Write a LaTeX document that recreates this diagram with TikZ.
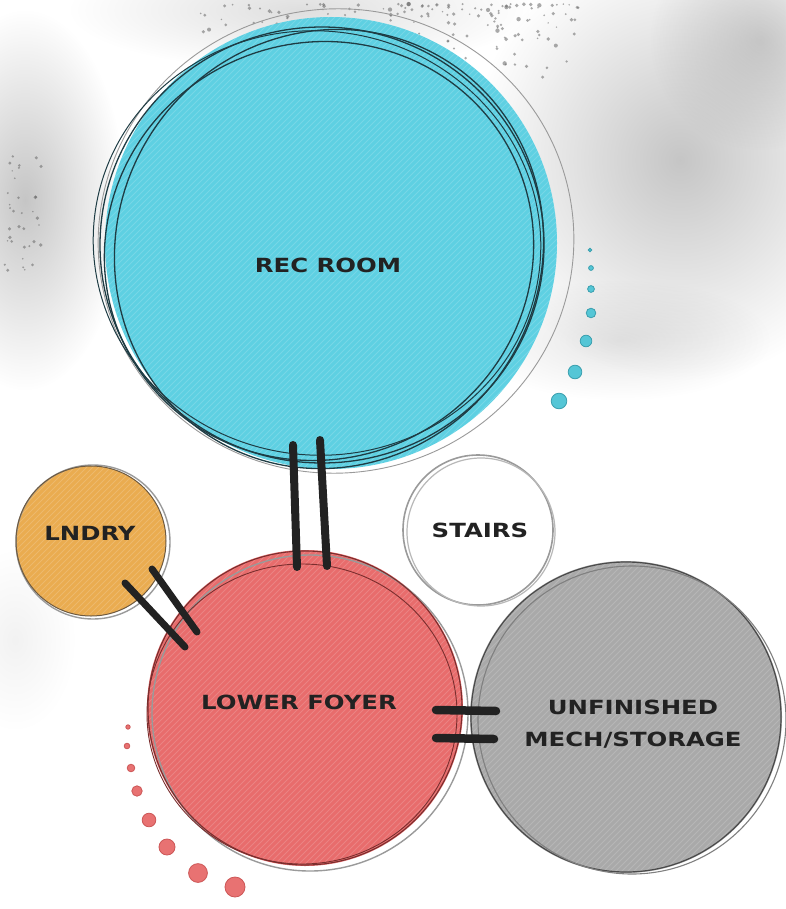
\documentclass[tikz,border=0pt]{standalone}
\usepackage{fontspec}
\usetikzlibrary{fadings,calc}
\newfontfamily\hand[FakeStretch=1.25]{DejaVu Sans}
\definecolor{ink}{HTML}{222222}
\definecolor{cyanfill}{HTML}{5ED0E2}
\definecolor{cyanline}{HTML}{1E3C44}
\definecolor{redfill}{HTML}{E86C6C}
\definecolor{redline}{HTML}{7A2E2E}
\definecolor{orangefill}{HTML}{EAAC50}
\definecolor{orangeline}{HTML}{6E5A40}
\definecolor{grayfill}{HTML}{A9A9A9}
\definecolor{grayline}{HTML}{4A4A4A}
\definecolor{softline}{HTML}{9A9A9A}
\definecolor{dotcyan}{HTML}{55C6D6}
\definecolor{dotcyanring}{HTML}{3A9FAE}
\definecolor{dotred}{HTML}{E87272}
\definecolor{dotredring}{HTML}{CC5656}
\tikzfading[name=haze, inner color=transparent!0, outer color=transparent!100]
\tikzset{
  lbl/.style={font=\hand\bfseries\fontsize{19.5}{32}\selectfont, text=ink, align=center, inner sep=0pt},
  room/.style={circle, inner sep=0pt},
  bar/.style={draw=ink, line width=8pt, line cap=round},
  hatchline/.style={draw=white, opacity=0.16, line width=0.8pt},
  hazeblob/.style={fill=gray, path fading=haze},
  speck/.style={fill=gray!80!black, opacity=0.55},
  recline/.style={draw=cyanline, line width=1.3pt},
}
\newcommand\hatchroom[2]{%
  \begin{scope}
    \clip (#1.center) circle[radius=#2];
    \foreach \i in {-60,...,60} {\draw[hatchline] ([shift={(\i*6-2*#2, 2*#2)}]#1.center) -- ++(4*#2,-4*#2);}
  \end{scope}}
\begin{document}
\begin{tikzpicture}[x=1pt,y=-1pt]
\useasboundingbox (0,0) rectangle (785,909);
\fill[white] (0,0) rectangle (785,909);
% background haze
\fill[hazeblob, opacity=0.45] (680,160) ellipse [x radius=210, y radius=220];
\fill[hazeblob, opacity=0.35] (760,40) ellipse [x radius=110, y radius=110];
\fill[hazeblob, opacity=0.45] (25,200) ellipse [x radius=100, y radius=190];
\fill[hazeblob, opacity=0.25] (300,10) ellipse [x radius=230, y radius=60];
\fill[hazeblob, opacity=0.2] (620,340) ellipse [x radius=150, y radius=60];
\fill[hazeblob, opacity=0.1] (15,640) ellipse [x radius=60, y radius=90];
% speckles
\pgfmathsetseed{11}
\foreach \i in {1,...,110} {
  \pgfmathsetmacro{\sx}{390+190*rnd}
  \pgfmathsetmacro{\sy}{4+95*rnd*rnd}
  \pgfmathsetmacro{\sr}{0.8+1.4*rnd}
  \fill[speck] (\sx,\sy) circle[radius=\sr];
}
\foreach \i in {1,...,40} {
  \pgfmathsetmacro{\sx}{200+200*rnd}
  \pgfmathsetmacro{\sy}{4+30*rnd}
  \pgfmathsetmacro{\sr}{0.8+1.2*rnd}
  \fill[speck] (\sx,\sy) circle[radius=\sr];
}
\foreach \i in {1,...,35} {
  \pgfmathsetmacro{\sx}{2+40*rnd}
  \pgfmathsetmacro{\sy}{130+150*rnd}
  \pgfmathsetmacro{\sr}{0.8+1.2*rnd}
  \fill[speck] (\sx,\sy) circle[radius=\sr];
}
% cyan dots
\foreach \x/\y/\r in {590/250/1.8, 591/268/2.4, 591/289/3.4, 591/313/4.8, 586/341/5.8, 575/372/6.8, 559/401/7.8}
  {\fill[dotcyan, draw=dotcyanring, line width=0.8pt] (\x,\y) circle[radius=\r];}
% red dots
\foreach \x/\y/\r in {128/727/2.2, 127/746/2.8, 131/768/3.8, 137/791/5.2, 149/820/6.8, 167/847/8, 198/873/9.4, 235/887/10}
  {\fill[dotred, draw=dotredring, line width=0.8pt] (\x,\y) circle[radius=\r];}

% rooms
\node[room, fill=cyanfill, minimum size=452pt] (rec) at (331,243) {};
\node[room, fill=none, minimum size=150pt] (stairs) at (478,530) {};
\node[room, fill=orangefill, minimum size=150pt] (lndry) at (91,541) {};
\node[room, fill=redfill, minimum size=316pt] (foyer) at (305,708) {};
\node[room, fill=grayfill, minimum size=312pt] (mech) at (626,717) {};

\hatchroom{rec}{226}
\hatchroom{lndry}{75}
\hatchroom{foyer}{158}
\hatchroom{mech}{156}

% outlines
\draw[softline, line width=0.9pt] ([shift={(5,-2)}]rec.center) ellipse [x radius=238, y radius=232, rotate=10];
\draw[recline] ([shift={(-9,2)}]rec.center) ellipse [x radius=222, y radius=218, rotate=0];
\draw[recline] ([shift={(-12,8)}]rec.center) ellipse [x radius=216, y radius=208, rotate=25];
\draw[recline] ([shift={(-2,6)}]rec.center) ellipse [x radius=212, y radius=222, rotate=-30];
\draw[recline, line width=1pt] ([shift={(-14,0)}]rec.center) ellipse [x radius=224, y radius=212, rotate=-8];

\draw[softline, line width=1.6pt] (stairs.center) circle[radius=75];
\draw[softline!70, line width=1.2pt] ([shift={(3,2)}]stairs.center) circle[radius=74];

\draw[softline, line width=1.4pt] ([shift={(2,1)}]lndry.center) circle[radius=77];
\draw[orangeline, line width=1pt] (lndry.center) circle[radius=75];

\draw[softline, line width=1.4pt] ([shift={(5,5)}]foyer.center) circle[radius=158];
\draw[redline, line width=1.1pt] (foyer.center) circle[radius=157];
\draw[redline, line width=0.9pt] ([shift={(-3,6)}]foyer.center) ellipse [x radius=155, y radius=150];

\draw[grayline, line width=1.2pt] (mech.center) circle[radius=155];
\draw[grayline!70, line width=1.1pt] ([shift={(6,3)}]mech.center) circle[radius=154];

% connectors
\coordinate (ra1) at (293,445); \coordinate (fa1) at (297,567);
\coordinate (ra2) at (320,440); \coordinate (fa2) at (327,566);
\coordinate (la1) at (125,583); \coordinate (fb1) at (185,647);
\coordinate (la2) at (152,569); \coordinate (fb2) at (197,632);
\coordinate (fc1) at (436,710); \coordinate (ma1) at (496,711);
\coordinate (fc2) at (436,738); \coordinate (ma2) at (494,739);
\draw[bar] (ra1) -- (fa1);
\draw[bar] (ra2) -- (fa2);
\draw[bar, line width=7pt] (la1) -- (fb1);
\draw[bar, line width=7pt] (la2) -- (fb2);
\draw[bar, line width=8.5pt] (fc1) -- (ma1);
\draw[bar, line width=8.5pt] (fc2) -- (ma2);

% labels
\node[lbl] (recT) at (328,265) {REC ROOM};
\node[lbl] (stairsT) at (480,530) {STAIRS};
\node[lbl] (lndryT) at (90,533) {LNDRY};
\node[lbl] (foyerT) at (299,702) {LOWER FOYER};
\node[lbl] (mechT) at (633,724) {UNFINISHED\\MECH/STORAGE};
\end{tikzpicture}
\end{document}
